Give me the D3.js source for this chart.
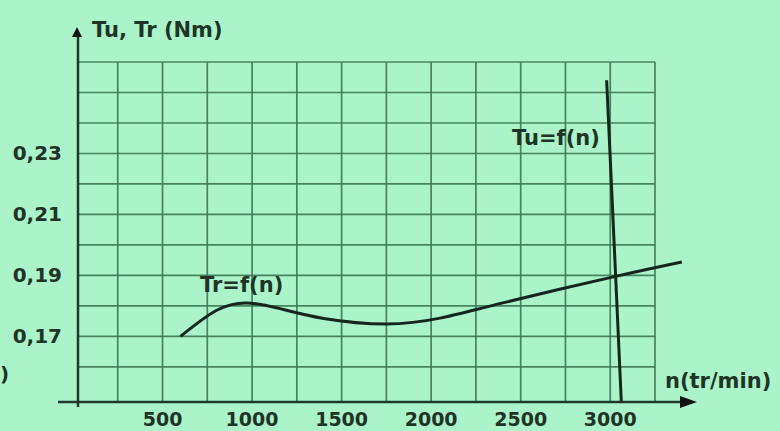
<!DOCTYPE html>
<html>
<head>
<meta charset="utf-8">
<script src="https://cdn.jsdelivr.net/npm/d3@7"></script>
<style>
  body { margin: 0; background: #abf4c9; }
  svg { display: block; }
  text { font-family: "DejaVu Sans", Verdana, sans-serif; font-weight: bold; fill: #1f3327; }
</style>
</head>
<body>
<div id="chart"></div>
<script>
// Tr = f(n) : resistant torque
var trSpeed  = [600, 800, 970, 1150, 1400, 1750, 2050, 2400, 3000, 3400];
var trTorque = [0.170, 0.1785, 0.181, 0.1792, 0.1759, 0.1741, 0.1760, 0.1810, 0.1893, 0.1944];

// Tu = f(n) : useful torque
var tuSpeed  = [2980, 3030, 3062];
var tuTorque = [0.254, 0.190, 0.1485];

var xTicks = [500, 1000, 1500, 2000, 2500, 3000];
var yTicks = [0.17, 0.19, 0.21, 0.23];
var xGrid = d3.range(250, 3251, 250);
var yGrid = d3.range(0.16, 0.2601, 0.01);

var width = 780,
    height = 431,
    margin = { top: 62, right: 125, bottom: 29, left: 78 };

var x = d3.scaleLinear()
    .domain([28, 3250])
    .range([margin.left, width - margin.right]);

var y = d3.scaleLinear()
    .domain([0.1485, 0.26])
    .range([height - margin.bottom, margin.top]);

var comma = d3.formatLocale({ decimal: ",", thousands: " ", grouping: [3], currency: ["", ""] }).format(".2f");

var svg = d3.select('#chart').append('svg')
    .attr('width', width)
    .attr('height', height);

var x0 = x(28), y0 = y(0.1485);

// grid
var grid = svg.append('g')
    .attr('stroke', '#3b7853')
    .attr('stroke-opacity', 0.9)
    .attr('stroke-width', 1.7);

grid.selectAll('.vx').data(xGrid).enter().append('line')
    .attr('x1', function(d) { return x(d); })
    .attr('x2', function(d) { return x(d); })
    .attr('y1', y0)
    .attr('y2', y(0.26));

grid.selectAll('.hy').data(yGrid).enter().append('line')
    .attr('x1', x0)
    .attr('x2', x(3250))
    .attr('y1', function(d) { return y(d); })
    .attr('y2', function(d) { return y(d); });

// axes
var axisColor = '#1f3a2a';
svg.append('line')
    .attr('x1', x0).attr('x2', x0)
    .attr('y1', 36).attr('y2', y0 + 5)
    .attr('stroke', axisColor).attr('stroke-width', 2.5);

svg.append('path')
    .attr('d', 'M' + (x0 - 1) + ',27 L' + (x0 + 4) + ',37 L' + (x0 - 6) + ',37 Z')
    .attr('fill', '#111');

svg.append('line')
    .attr('x1', 58).attr('x2', 688)
    .attr('y1', y0).attr('y2', y0)
    .attr('stroke', axisColor).attr('stroke-width', 2.5);

svg.append('path')
    .attr('d', 'M697,' + y0 + ' L680,' + (y0 - 6) + ' L680,' + (y0 + 6) + ' Z')
    .attr('fill', '#111');

// tick labels
svg.selectAll('.xl').data(xTicks).enter().append('text')
    .attr('x', function(d) { return x(d); })
    .attr('y', 426)
    .attr('text-anchor', 'middle')
    .style('font-size', '19px')
    .text(function(d) { return d; });

svg.selectAll('.yl').data(yTicks).enter().append('text')
    .attr('x', 62)
    .attr('y', function(d) { return y(d) + 7; })
    .attr('text-anchor', 'end')
    .style('font-size', '20px')
    .text(function(d) { return comma(d); });

// curves
var line = d3.line()
    .x(function(d) { return x(d[0]); })
    .y(function(d) { return y(d[1]); })
    .curve(d3.curveNatural);

svg.append('path')
    .datum(d3.zip(trSpeed, trTorque))
    .attr('d', line)
    .attr('fill', 'none')
    .attr('stroke', '#15271c')
    .attr('stroke-width', 3);

svg.append('path')
    .datum(d3.zip(tuSpeed, tuTorque))
    .attr('d', line.curve(d3.curveLinear))
    .attr('fill', 'none')
    .attr('stroke', '#15271c')
    .attr('stroke-width', 3);

// labels
svg.append('text').attr('x', 92).attr('y', 37).style('font-size', '21px').text('Tu, Tr (Nm)');
svg.append('text').attr('x', 665).attr('y', 388).style('font-size', '21px').text('n(tr/min)');
svg.append('text').attr('x', 512).attr('y', 145).style('font-size', '21px').text('Tu=f(n)');
svg.append('text').attr('x', 200).attr('y', 292).style('font-size', '21px').text('Tr=f(n)');
svg.append('text').attr('x', 0).attr('y', 381).style('font-size', '20px').text(')');
</script>
</body>
</html>
